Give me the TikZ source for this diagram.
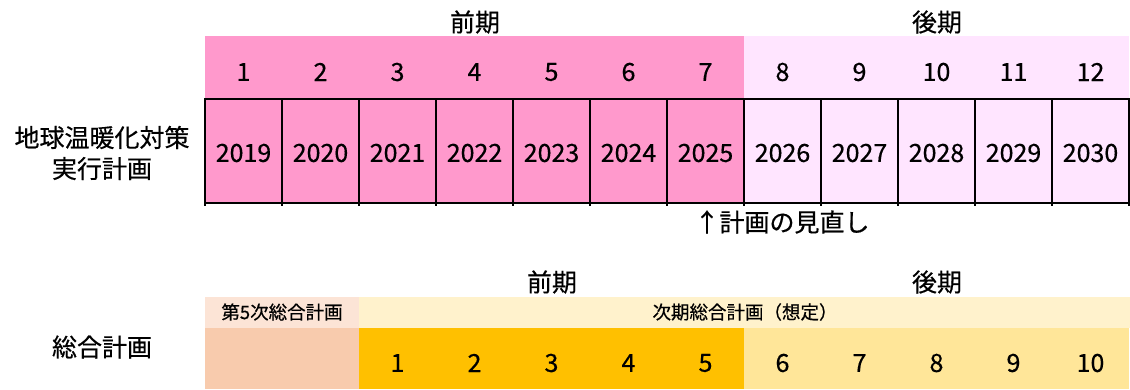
\documentclass[tikz,border=0pt]{standalone}
\usepackage{fontspec}
\setmainfont{Noto Sans CJK JP}[FakeBold=0.5]
\definecolor{pinkD}{HTML}{FF99CC}
\definecolor{pinkL}{HTML}{FFE5FF}
\definecolor{peachL}{HTML}{FCE4D6}
\definecolor{peachD}{HTML}{F8CBAD}
\definecolor{yelL}{HTML}{FFF2CC}
\definecolor{yelM}{HTML}{FFE699}
\definecolor{yelD}{HTML}{FFC000}
\begin{document}
\begin{tikzpicture}[x=1pt,y=-1pt,
  big/.style={font=\fontsize{25}{31}\selectfont, inner sep=0pt, align=center},
  small/.style={font=\fontsize{18.5}{22}\selectfont, inner sep=0pt},
  band/.style={inner sep=0pt, outer sep=0pt, draw=none},
  cell/.style={draw=black, line width=2pt, inner sep=0pt, outer sep=0pt,
    minimum width=77pt, minimum height=104pt},
  tick/.style={draw=black, line width=2pt}]
\useasboundingbox (0,0) rectangle (1130,389);
% ---------- top plan ----------
\node[big] (zen1) at (475,22) {前期};
\node[big] (kou1) at (937,22) {後期};
\foreach \i/\yr in {1/2019,2/2020,3/2021,4/2022,5/2023,6/2024,7/2025,8/2026,9/2027,10/2028,11/2029,12/2030}{
  \pgfmathsetmacro{\xc}{205+77*(\i-0.5)}
  \ifnum\i<8 \def\cc{pinkD}\else\def\cc{pinkL}\fi
  \node[band, fill=\cc, minimum width=77.4pt, minimum height=63pt] (h\i) at (\xc,67.5) {};
  \node[big] (n\i) at (\xc,72) {\i};
  \node[cell, fill=\cc] (y\i) at (\xc,151) {};
  \node[big] (t\i) at (\xc,153) {\yr};
  \draw[tick] (y\i.south east) -- ++(0,3);
}
\draw[tick] (y1.south west) -- ++(0,3);
\node[big] (lab1) at (102,153) {地球温暖化対策\\実行計画};
\node[big] (rev) at (782,222) {↑計画の見直し};
% ---------- bottom plan ----------
\node[big] (zen2) at (552,282) {前期};
\node[big] (kou2) at (937,282) {後期};
\node[band, fill=peachL, minimum width=154pt, minimum height=31pt] (p5) at (282,312.5) {};
\node[small] (p5t) at (282,312) {第5次総合計画};
\node[band, fill=peachD, minimum width=154pt, minimum height=61pt] (p5b) at (282,358.5) {};
\node[band, fill=yelL, minimum width=771pt, minimum height=31pt] (nx) at (744.5,312.5) {};
\node[small] (nxt) at (745,312) {次期総合計画（想定）};
\foreach \i in {1,...,10}{
  \pgfmathsetmacro{\xc}{359+77*(\i-0.5)}
  \ifnum\i<6 \def\cc{yelD}\else\def\cc{yelM}\fi
  \node[band, fill=\cc, minimum width=77.4pt, minimum height=61pt] (b\i) at (\xc,358.5) {};
  \node[big] (m\i) at (\xc,363) {\i};
}
\node[big] (lab2) at (102,347) {総合計画};
\end{tikzpicture}
\end{document}
